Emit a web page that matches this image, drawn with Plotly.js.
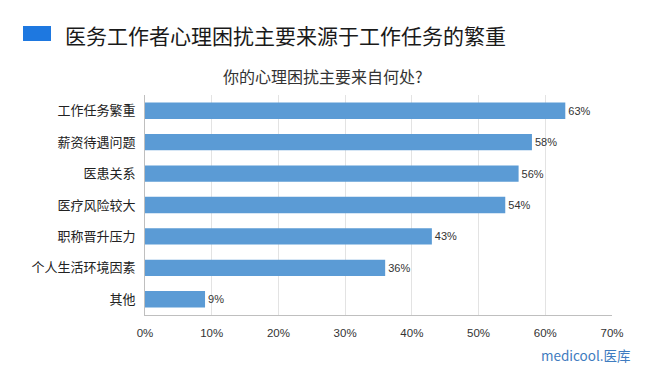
<!DOCTYPE html>
<html><head><meta charset="utf-8">
<script src="https://cdn.plot.ly/plotly-3.0.1.min.js"></script>
<style>body{margin:0;background:#fff}#c{width:656px;height:385px}</style>
</head><body><div id="c"></div>
<script>
const categories = ["工作任务繁重","薪资待遇问题","医患关系","医疗风险较大","职称晋升压力","个人生活环境因素","其他"];
const values = [63, 58, 56, 54, 43, 36, 9];
const tickVals = [0,10,20,30,40,50,60,70];
const tickText = ["0%","10%","20%","30%","40%","50%","60%","70%"];
const mainTitle = "医务工作者心理困扰主要来源于工作任务的繁重";
const subTitle = "你的心理困扰主要来自何处?";
const watermark = "medicool.医库";

const font = '"Noto Sans CJK SC", "Noto Sans", sans-serif';
const latin = '"Liberation Sans", "Noto Sans CJK SC", sans-serif';
Plotly.newPlot('c', [{
  type: 'bar', orientation: 'h',
  x: values, y: categories,
  marker: {color: '#5B9BD5', line: {width: 0}},
  width: 0.52,
  text: values.map(v => v + '%'),
  textposition: 'outside', cliponaxis: false,
  textfont: {size: 11, color: '#333', family: latin},
  hoverinfo: 'none'
}], {
  width: 656, height: 385,
  margin: {l: 145, r: 44, t: 95, b: 70},
  paper_bgcolor: '#fff', plot_bgcolor: '#fff',
  font: {family: font, color: '#333'},
  showlegend: false,
  xaxis: {range: [0, 70], tickvals: tickVals, ticktext: tickText,
    showgrid: true, gridcolor: '#e3e3e3', gridwidth: 1,
    showline: true, linecolor: '#bfbfbf', linewidth: 1, zeroline: false,
    ticks: 'outside', ticklen: 7, tickcolor: 'rgba(0,0,0,0)',
    tickfont: {size: 11.5, color: '#333', family: latin}, fixedrange: true},
  yaxis: {autorange: 'reversed', showline: true, linecolor: '#bfbfbf', linewidth: 1,
    showgrid: false, ticks: 'outside', ticklen: 6, tickcolor: 'rgba(0,0,0,0)',
    tickfont: {size: 13, color: '#222'}},
  shapes: [{type: 'rect', xref: 'paper', yref: 'paper',
    x0: -0.2612, x1: -0.2013, y0: 1.3136, y1: 1.2455,
    fillcolor: '#1E78E0', line: {width: 0}}],
  annotations: [
    {text: mainTitle, xref: 'paper', yref: 'paper', x: -0.1756, y: 1.2727,
     xanchor: 'left', yanchor: 'middle', showarrow: false,
     font: {size: 21, color: '#1a1a1a', family: font}},
    {text: subTitle, xref: 'paper', yref: 'paper', x: 0.381, y: 1.086,
     xanchor: 'center', yanchor: 'middle', showarrow: false,
     font: {size: 16, color: '#333', family: font}},
    {text: watermark, xref: 'paper', yref: 'paper', x: 1.045, y: -0.182,
     xanchor: 'right', yanchor: 'middle', showarrow: false,
     font: {size: 13.5, color: '#3F7CC0', family: font}}
  ]
}, {displayModeBar: false, staticPlot: true});
</script></body></html>
